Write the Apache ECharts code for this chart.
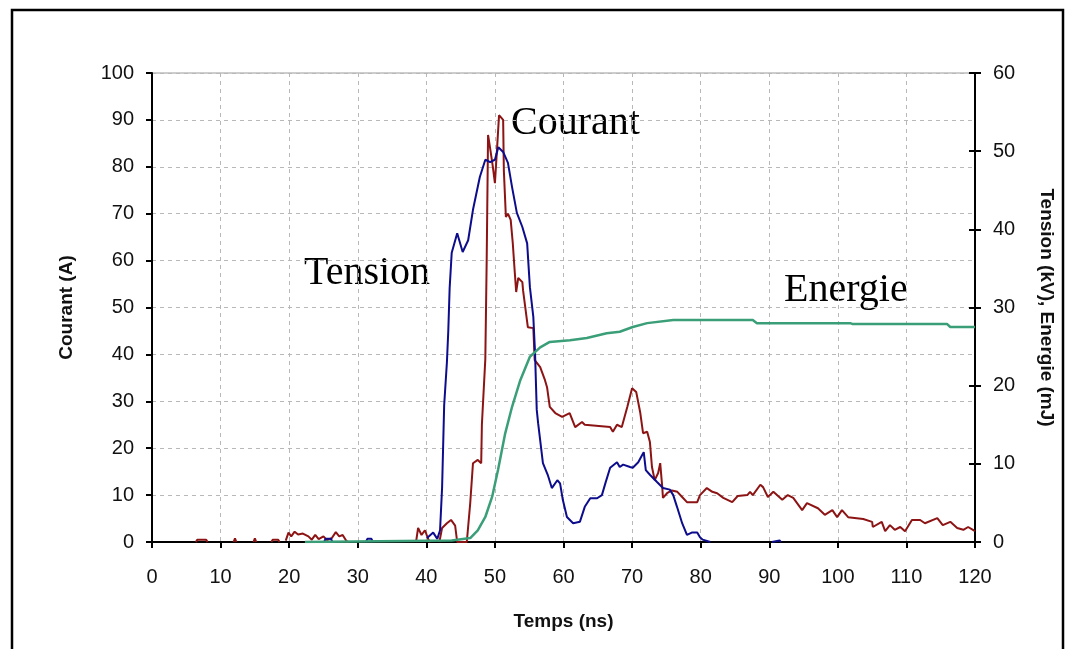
<!DOCTYPE html>
<html>
<head>
<meta charset="utf-8">
<script src="https://cdn.jsdelivr.net/npm/echarts@6/dist/echarts.min.js"></script>
<style>
  html, body { margin: 0; padding: 0; background: #fff; }
  #chart { width: 1071px; height: 649px; }
</style>
</head>
<body>
<div id="chart"></div>
<script>
// Courant (A), axe gauche
const courantT = [6.4, 6.6, 7.9, 8.1, 10, 11.9, 12.1, 12.3, 13, 14.8, 15.0, 15.2, 16, 17.4, 17.6, 18.4, 18.6, 19,
  19.5, 19.9, 20.3, 20.8, 21.3, 22.0, 22.8, 23.3, 23.8, 24.3, 25.0, 25.5, 26.2, 26.8, 27.3, 27.8, 28.3, 28.6, 30,
  38.5, 38.8, 39.3, 39.8, 40.3, 40.6, 41,
  41.9, 42.3, 43.0, 43.6, 44.2, 44.5, 45.9, 46.4, 46.8, 47.5, 48.0, 48.1, 48.6, 48.8, 49.0, 49.3, 49.7, 50.0,
  50.3, 50.6, 51.2, 51.3, 51.6, 51.9, 52.3, 52.6, 52.9, 53.1, 53.4, 54.0, 54.1, 54.8, 55.6, 55.8, 56.6, 57.3,
  57.6, 58.0, 58.8, 59.8, 60.9, 61.7, 62.7, 63.1, 66.8, 67.2, 67.8, 68.5, 69.3, 70.0, 70.6, 71.2, 71.6, 72.2,
  72.6, 72.9, 73.3, 73.8, 74.1, 74.4, 74.5, 75.1, 75.8, 76.6, 77.3, 78.0, 79.5, 79.9, 80.9, 81.7, 82.4, 83.3,
  84.6, 85.4, 86.8, 87.2, 87.6, 88.7, 89.1, 89.8, 90.6, 91.9, 92.7, 93.5, 94.8, 95.5, 97.1, 98.1, 99.2, 99.9,
  100.6, 101.5, 103.7, 105.0, 105.1, 106.4, 106.9, 107.6, 108.3, 109.1, 109.8, 110.8, 112.0, 112.7, 114.5,
  115.3, 116.4, 117.4, 118.3, 119.0, 119.7, 120];
const courant = [0, 0.5, 0.5, 0, null, 0, 0.8, 0, null, 0, 0.8, 0, null, 0, 0.5, 0.5, 0, null,
  0.3, 2.0, 1.2, 2.2, 1.6, 1.8, 1.2, 0.5, 1.5, 0.6, 1.2, 0.4, 0.8, 2.1, 1.2, 1.5, 0.3, 0, null,
  0, 3.0, 1.5, 2.5, 0.5, 0, null,
  0, 3.0, 4.0, 4.7, 3.5, 0, 0, 8.3, 16.8, 17.5, 16.8, 25, 39, 60, 86.8, 84, 80, 76.5,
  83.6, 91, 90, 79.3, 69.3, 70, 68.7, 63.8, 57.4, 53.3, 56.3, 55.4, 53.7, 45.8, 45.6, 38.8, 37.3, 34.5,
  33, 28.8, 27.5, 26.7, 27.5, 24.5, 25.6, 25, 24.5, 23.5, 25, 24.5, 28.8, 32.8, 32, 27.5, 23.2, 23.5,
  21.3, 16, 13.2, 14.7, 16.8, 11.7, 9.4, 10.4, 11, 10.7, 9.6, 8.5, 8.5, 10, 11.5, 10.7, 10.4, 9.4,
  8.5, 9.8, 10, 10.7, 10, 12.2, 11.7, 9.6, 10.7, 9, 10, 9.4, 6.8, 8.3, 7.2, 5.8, 6.8, 5.3,
  6.8, 5.3, 4.9, 4.3, 3.2, 4.3, 2.3, 3.6, 2.6, 3.2, 2.3, 4.7, 4.7, 4.0, 5.1,
  3.6, 4.3, 3.0, 2.6, 3.2, 2.6, 2.3];

// Tension (kV), axe droit
const tensionT = [25.1, 25.3, 26.1, 26.3, 27, 31.2, 31.4, 32.0, 32.2, 33,
  40.1, 41.0, 41.6, 42.0, 42.3, 42.6, 43.0, 43.2, 43.4, 43.7, 44.5, 45.3, 46.1, 46.8, 47.8, 48.6, 49.3,
  50.0, 50.5, 51.2, 51.9, 52.5, 53.2, 54.0, 54.7, 55.1, 55.6, 55.85, 56.1, 56.3, 57.0, 57.7, 58.3, 59.1,
  59.5, 59.9, 60.5, 61.4, 62.4, 63.1, 63.9, 64.9, 65.6, 66.1, 66.8, 67.8, 68.2, 68.7, 69.7, 70.1, 70.9,
  71.45, 71.7, 72.0, 72.6, 73.6, 74.5, 75.5, 76.0, 76.55, 77.3, 78.0, 78.7, 79.5, 79.9, 80.3, 81.4, 82,
  90.4, 90.6, 91.5, 91.7];
const tension = [0, 0.4, 0.4, 0, null, 0, 0.4, 0.4, 0, null,
  0.5, 1.2, 0.4, 1.5, 7, 17.5, 23, 27, 32.5, 37, 39.5, 37.1, 38.6, 42.5, 46.7, 48.9, 48.6,
  48.9, 50.5, 49.9, 48.5, 45.4, 42.1, 40.3, 38.2, 32.6, 28.8, 24.2, 16.9, 15.2, 10.1, 8.6, 6.9, 7.9,
  7.5, 5.4, 3.2, 2.4, 2.6, 4.5, 5.6, 5.6, 6.0, 7.5, 9.5, 10.2, 9.6, 9.9, 9.6, 9.5, 10.2,
  11.1, 11.5, 9.2, 8.6, 7.7, 6.9, 6.7, 6.0, 4.5, 2.4, 0.9, 1.2, 1.2, 0.6, 0.3, 0, null,
  0, 0.2, 0.2, 0];

// Energie (mJ), axe droit
const energieT = [22.3, 43.7, 46.4, 47.5, 48.6, 49.6, 50.45, 51.5, 52.5, 53.7, 55.1, 56.6, 58.0, 60.95,
  63.4, 66.3, 68.2, 70.1, 72.2, 76.0, 87.6, 88.2, 101.8, 102.1, 115.9, 116.4, 120];
const energie = [0, 0.2, 0.5, 1.5, 3.2, 5.8, 9.2, 13.9, 17.3, 20.7, 23.7, 24.9, 25.6, 25.8,
  26.1, 26.7, 26.9, 27.5, 28.0, 28.4, 28.4, 28.0, 28.0, 27.9, 27.9, 27.5, 27.5];

const xTicks = { min: 0, max: 120, interval: 10 };
const leftTicks = { min: 0, max: 100, interval: 10 };
const rightTicks = { min: 0, max: 60, interval: 10 };

const pairs = (t, v) => t.map((x, i) => [x, v[i] === null ? '-' : v[i]]);

const chart = echarts.init(document.getElementById('chart'));
const axisFont = { fontFamily: 'Liberation Sans', fontSize: 20, color: '#111' };
const nameFont = { fontFamily: 'Liberation Sans', fontSize: 19, fontWeight: 'bold', color: '#111' };
const gridDash = { color: '#b8b8b8', width: 1, type: [4, 4] };
const annotFont = '40px "Liberation Serif"';

chart.setOption({
  animation: false,
  backgroundColor: '#fff',
  grid: { left: 152, right: 96, top: 73, bottom: 107, show: true, borderColor: '#9a9a9a', borderWidth: 1 },
  xAxis: {
    type: 'value', ...xTicks,
    name: 'Temps (ns)', nameLocation: 'middle', nameGap: 70, nameTextStyle: nameFont,
    axisLine: { lineStyle: { color: '#000', width: 2 } },
    axisTick: { length: 6, lineStyle: { color: '#000', width: 2 } },
    axisLabel: { ...axisFont, margin: 25 },
    splitLine: { show: true, lineStyle: gridDash }
  },
  yAxis: [
    {
      type: 'value', position: 'left', ...leftTicks,
      name: 'Courant (A)', nameLocation: 'middle', nameGap: 76, nameTextStyle: nameFont,
      axisLine: { show: true, lineStyle: { color: '#000', width: 2 } },
      axisTick: { show: true, length: 6, lineStyle: { color: '#000', width: 2 } },
      axisLabel: { ...axisFont, margin: 18 },
      splitLine: { show: true, lineStyle: gridDash }
    },
    {
      type: 'value', position: 'right', ...rightTicks,
      name: 'Tension (kV), Energie (mJ)', nameLocation: 'middle', nameGap: 62, nameRotate: -90,
      nameTextStyle: nameFont,
      axisLine: { show: true, lineStyle: { color: '#000', width: 2 } },
      axisTick: { show: true, length: 6, lineStyle: { color: '#000', width: 2 } },
      axisLabel: { ...axisFont, margin: 18 },
      splitLine: { show: false }
    },
    {
      // ticks interieurs de l'axe droit
      type: 'value', position: 'right', ...rightTicks,
      axisLine: { show: false },
      axisTick: { show: true, inside: true, length: 6, lineStyle: { color: '#000', width: 2 } },
      axisLabel: { show: false },
      splitLine: { show: false }
    }
  ],
  series: [
    {
      name: 'Courant', type: 'line', yAxisIndex: 0, data: pairs(courantT, courant),
      showSymbol: false, connectNulls: false, z: 3,
      lineStyle: { color: '#8c1414', width: 2 }
    },
    {
      name: 'Tension', type: 'line', yAxisIndex: 1, data: pairs(tensionT, tension),
      showSymbol: false, connectNulls: false, z: 4,
      lineStyle: { color: '#0c0c8c', width: 2 }
    },
    {
      name: 'Energie', type: 'line', yAxisIndex: 1, data: pairs(energieT, energie),
      showSymbol: false, z: 5,
      lineStyle: { color: '#3a9f78', width: 2.5 }
    }
  ],
  graphic: [
    { type: 'rect', shape: { x: 12, y: 10, width: 1051, height: 700 }, style: { fill: 'none', stroke: '#000', lineWidth: 2.5 }, silent: true },
    { type: 'text', left: 304, top: 253, style: { text: 'Tension', font: annotFont, fill: '#000' } },
    { type: 'text', left: 511, top: 103, style: { text: 'Courant', font: annotFont, fill: '#000' } },
    { type: 'text', left: 784, top: 270, style: { text: 'Energie', font: annotFont, fill: '#000' } }
  ]
});
</script>
</body>
</html>
